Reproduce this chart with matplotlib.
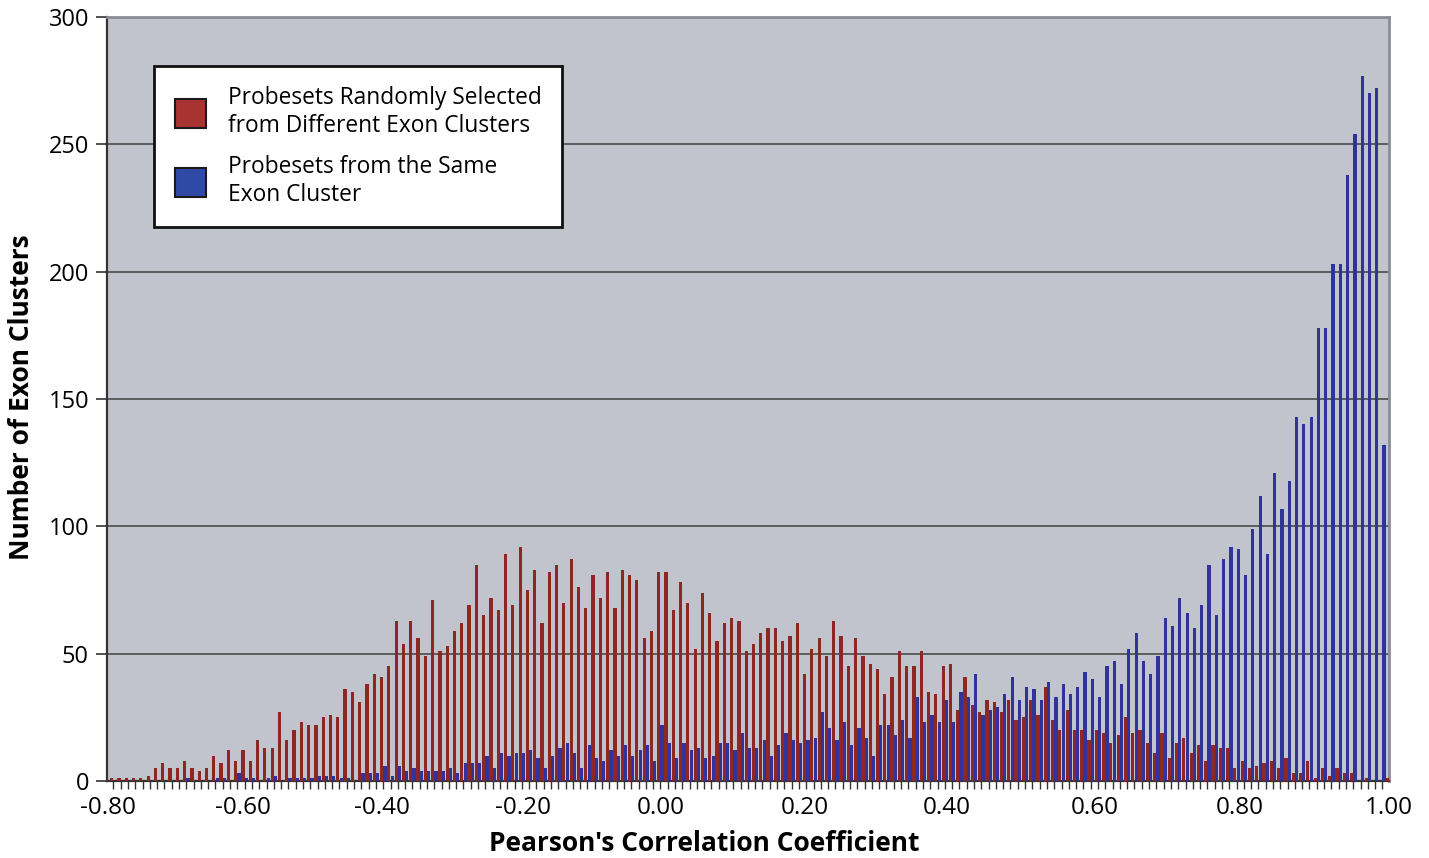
import matplotlib
matplotlib.use('Agg')
import matplotlib.pyplot as plt
from matplotlib.patches import Patch
import numpy as np

plt.rcParams['font.family'] = ['Open Sans', 'DejaVu Sans']

# counts per correlation bin (176 bins, -0.80 .. 1.00)
different_clusters = [
    1, 1, 1, 1, 1, 2, 5, 7, 5, 5, 8, 5, 4, 5, 10, 7, 12, 8, 12, 8, 16, 13,
    13, 27, 16, 20, 23, 22, 22, 25, 26, 25, 36, 35, 31, 38, 42, 41, 45, 63, 54, 63, 56, 49,
    71, 51, 53, 59, 62, 69, 85, 65, 72, 67, 89, 69, 92, 75, 83, 62, 82, 85, 70, 87, 76, 68,
    81, 72, 82, 68, 83, 81, 79, 56, 59, 82, 82, 67, 78, 70, 52, 74, 66, 55, 62, 64, 63, 51,
    54, 58, 60, 60, 55, 57, 62, 42, 52, 56, 49, 63, 57, 45, 56, 49, 46, 44, 34, 41, 51, 45,
    45, 51, 35, 34, 45, 46, 28, 41, 30, 27, 32, 31, 27, 32, 24, 25, 32, 26, 37, 24, 20, 28,
    20, 20, 16, 20, 19, 15, 18, 25, 19, 20, 15, 11, 19, 9, 15, 17, 11, 14, 8, 14, 13, 13,
    5, 8, 5, 6, 7, 8, 5, 9, 3, 3, 8, 1, 5, 2, 5, 3, 3, 0, 1, 0, 0, 1,
]
same_cluster = [
    0, 0, 0, 0, 0, 0, 0, 0, 0, 0, 1, 0, 0, 0, 1, 1, 0, 3, 1, 1, 0, 1,
    2, 0, 1, 1, 1, 1, 2, 2, 2, 1, 1, 0, 3, 3, 3, 6, 2, 6, 4, 5, 4, 4,
    4, 4, 5, 3, 7, 7, 7, 10, 5, 11, 10, 11, 11, 12, 9, 5, 10, 13, 15, 11, 5, 14,
    9, 8, 12, 10, 14, 10, 12, 14, 8, 22, 15, 9, 15, 12, 13, 9, 10, 15, 15, 12, 19, 13,
    13, 16, 10, 14, 19, 16, 15, 16, 17, 27, 21, 16, 23, 14, 21, 17, 10, 22, 22, 18, 24, 17,
    33, 23, 26, 23, 32, 23, 35, 33, 42, 26, 28, 29, 34, 41, 32, 37, 36, 32, 39, 33, 38, 34,
    37, 43, 40, 33, 45, 47, 38, 52, 58, 47, 42, 49, 64, 61, 72, 66, 60, 69, 85, 65, 87, 92,
    91, 81, 99, 112, 89, 121, 107, 118, 143, 140, 143, 178, 178, 203, 203, 238, 254, 277, 270, 272, 132, 0,
]
tick_labels = ['-0.80', '-0.60', '-0.40', '-0.20', '0.00', '0.20', '0.40', '0.60', '0.80', '1.00']
tick_pos = [-0.7, 17.8, 36.8, 56.2, 75.1, 94.8, 114.3, 134.5, 154.5, 174.85]

x = np.arange(len(different_clusters))

fig = plt.figure(figsize=(14.29, 8.58), dpi=100)
ax = fig.add_axes([0.0749, 0.0897, 0.8971, 0.8905])
ax.set_facecolor('#c1c4cc')

ax.bar(x - 0.23, different_clusters, width=0.44, color='#8e2624', zorder=3)
ax.bar(x + 0.23, same_cluster, width=0.44, color='#30349a', zorder=3)

ax.set_xlim(-0.87, 174.9)
ax.set_ylim(0, 300)
ax.set_yticks(range(0, 301, 50))
ax.yaxis.grid(True, color='#4a4a4a', linewidth=1.2, zorder=1)

ax.set_xticks(tick_pos)
ax.set_xticklabels(tick_labels)
ax.set_xticks(x[:175], minor=True)
ax.tick_params(axis='x', which='major', length=0, pad=11, labelsize=17.5)
ax.tick_params(axis='x', which='minor', length=6, width=1, color='#333333', direction='out')
ax.tick_params(axis='y', length=8, width=1.2, color='#333333', labelsize=17, pad=5)

for side in ['left', 'bottom']:
    ax.spines[side].set_color('#333333')
    ax.spines[side].set_linewidth(1.6)
for side in ['top', 'right']:
    ax.spines[side].set_color('#8a8d94')
    ax.spines[side].set_linewidth(2)

ax.set_ylabel('Number of Exon Clusters', fontsize=19, fontweight='bold')
ax.yaxis.set_label_coords(-0.056, 0.503)
ax.set_xlabel("Pearson's Correlation Coefficient", fontsize=19, fontweight='bold')
ax.xaxis.set_label_coords(0.466, -0.064)

handles = [
    Patch(facecolor='#a83431', edgecolor='#1a1a1a', linewidth=1.5,
          label='Probesets Randomly Selected\nfrom Different Exon Clusters'),
    Patch(facecolor='#2f4aa6', edgecolor='#1a1a1a', linewidth=1.5,
          label='Probesets from the Same\nExon Cluster'),
]
leg = ax.legend(handles=handles, loc='upper left', bbox_to_anchor=(0.0367, 0.936),
                borderaxespad=0, fontsize=16.4, handlelength=1.4, handleheight=1.6,
                handletextpad=0.95, borderpad=0.9, labelspacing=0.75,
                fancybox=False, framealpha=1, edgecolor='#111111')
leg.get_frame().set_linewidth(2)
leg.set_zorder(5)

fig.savefig('out.png', dpi=100)
